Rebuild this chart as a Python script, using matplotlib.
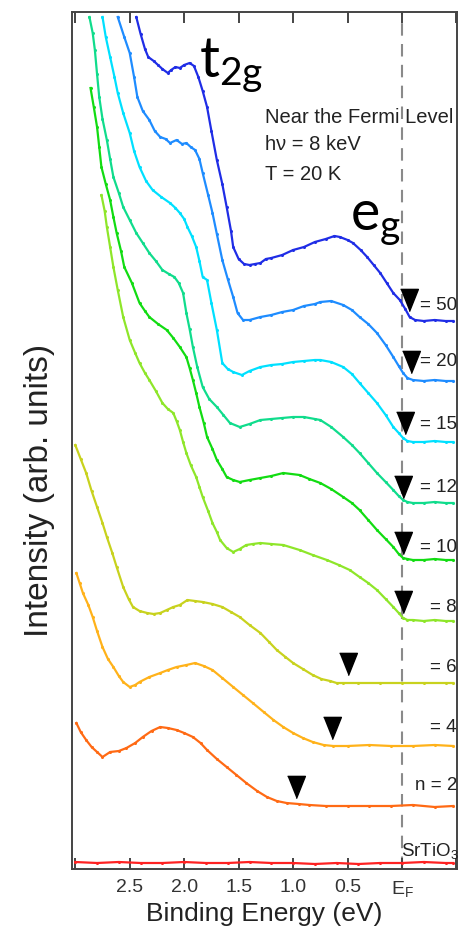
import numpy as np
from matplotlib import pyplot as plt

plt.rcParams['font.family'] = ['Liberation Sans Narrow', 'Liberation Sans', 'DejaVu Sans']

# binding energy (eV) and intensity (arb. units) for each film
e_50 = [2.44, 2.40, 2.36, 2.33, 2.28, 2.24, 2.20, 2.15, 2.12, 2.08, 2.04, 2.00, 1.95, 1.91,
        1.87, 1.83, 1.79, 1.75, 1.70, 1.65, 1.61, 1.57, 1.55, 1.50, 1.45, 1.40, 1.35, 1.30,
        1.25, 1.20, 1.10, 1.00, 0.90, 0.80, 0.70, 0.62, 0.57, 0.50, 0.45, 0.38, 0.32, 0.26,
        0.20, 0.14, 0.08, 0.02, -0.03, -0.07, -0.12, -0.20, -0.30, -0.40, -0.47]
i_50 = [8.52, 8.35, 8.20, 8.12, 8.08, 8.04, 8.00, 7.96, 7.99, 8.02, 8.01, 8.04, 8.06, 8.03,
        7.92, 7.78, 7.62, 7.38, 7.09, 6.85, 6.62, 6.38, 6.22, 6.10, 6.05, 6.04, 6.05, 6.06,
        6.10, 6.11, 6.14, 6.19, 6.22, 6.27, 6.30, 6.33, 6.32, 6.29, 6.26, 6.19, 6.12, 6.04,
        5.96, 5.86, 5.76, 5.69, 5.60, 5.52, 5.49, 5.48, 5.49, 5.48, 5.48]

e_20 = [2.61, 2.55, 2.50, 2.46, 2.43, 2.38, 2.32, 2.27, 2.22, 2.17, 2.13, 2.07, 2.02, 1.98,
        1.94, 1.90, 1.86, 1.83, 1.78, 1.74, 1.70, 1.65, 1.60, 1.55, 1.51, 1.46, 1.40, 1.30,
        1.20, 1.10, 1.00, 0.90, 0.80, 0.75, 0.65, 0.54, 0.46, 0.39, 0.31, 0.23, 0.15, 0.08,
        0.03, -0.01, -0.05, -0.10, -0.20, -0.30, -0.40, -0.47]
i_20 = [8.52, 8.32, 8.16, 7.92, 7.72, 7.58, 7.49, 7.38, 7.32, 7.30, 7.26, 7.29, 7.25, 7.26,
        7.22, 7.19, 7.10, 6.96, 6.74, 6.56, 6.35, 6.09, 5.90, 5.72, 5.56, 5.49, 5.49, 5.52,
        5.54, 5.57, 5.59, 5.63, 5.65, 5.67, 5.68, 5.64, 5.59, 5.52, 5.45, 5.36, 5.24, 5.12,
        5.03, 4.96, 4.91, 4.89, 4.88, 4.89, 4.88, 4.88]

e_15 = [2.75, 2.72, 2.68, 2.64, 2.61, 2.56, 2.50, 2.46, 2.41, 2.35, 2.29, 2.21, 2.13, 2.08,
        2.04, 2.00, 1.97, 1.93, 1.89, 1.86, 1.83, 1.79, 1.75, 1.70, 1.65, 1.60, 1.55, 1.47,
        1.40, 1.30, 1.20, 1.10, 1.00, 0.90, 0.80, 0.75, 0.65, 0.54, 0.46, 0.39, 0.31, 0.23,
        0.15, 0.08, 0.03, -0.01, -0.05, -0.10, -0.20, -0.30, -0.40, -0.47]
i_15 = [8.52, 8.32, 8.12, 7.92, 7.76, 7.56, 7.36, 7.18, 7.02, 6.88, 6.79, 6.72, 6.66, 6.61,
        6.56, 6.50, 6.42, 6.33, 6.22, 6.08, 5.92, 5.89, 5.66, 5.39, 5.06, 5.00, 4.97, 4.94,
        4.98, 5.02, 5.04, 5.05, 5.07, 5.08, 5.09, 5.09, 5.07, 5.02, 4.95, 4.86, 4.76, 4.66,
        4.54, 4.42, 4.36, 4.31, 4.28, 4.27, 4.27, 4.28, 4.27, 4.27]

e_12 = [2.87, 2.84, 2.82, 2.80, 2.78, 2.75, 2.71, 2.68, 2.65, 2.60, 2.56, 2.50, 2.44, 2.38,
        2.32, 2.26, 2.20, 2.14, 2.09, 2.05, 2.01, 1.98, 1.95, 1.92, 1.88, 1.83, 1.77, 1.70,
        1.64, 1.58, 1.49, 1.40, 1.30, 1.20, 1.10, 1.00, 0.90, 0.80, 0.75, 0.65, 0.54, 0.46,
        0.39, 0.31, 0.23, 0.15, 0.08, 0.03, -0.01, -0.05, -0.10, -0.20, -0.30, -0.40, -0.47]
i_12 = [8.52, 8.36, 8.19, 7.95, 7.72, 7.50, 7.29, 7.10, 6.92, 6.76, 6.62, 6.49, 6.36, 6.26,
        6.16, 6.08, 5.99, 5.95, 5.92, 5.86, 5.76, 5.56, 5.40, 5.22, 5.02, 4.82, 4.70, 4.62,
        4.54, 4.46, 4.42, 4.45, 4.49, 4.50, 4.51, 4.52, 4.52, 4.50, 4.49, 4.42, 4.32, 4.24,
        4.16, 4.06, 3.96, 3.87, 3.79, 3.73, 3.69, 3.67, 3.66, 3.66, 3.67, 3.66, 3.66]

e_10 = [2.86, 2.83, 2.80, 2.78, 2.76, 2.72, 2.68, 2.65, 2.62, 2.58, 2.55, 2.48, 2.41, 2.36,
        2.32, 2.24, 2.16, 2.10, 2.04, 1.98, 1.95, 1.92, 1.89, 1.86, 1.82, 1.79, 1.74, 1.70,
        1.65, 1.61, 1.55, 1.49, 1.40, 1.30, 1.20, 1.09, 0.94, 0.85, 0.75, 0.65, 0.54, 0.46,
        0.39, 0.31, 0.23, 0.15, 0.08, 0.03, -0.01, -0.05, -0.10, -0.20, -0.30, -0.40, -0.47]
i_10 = [7.81, 7.62, 7.42, 7.22, 7.02, 6.85, 6.69, 6.52, 6.36, 6.18, 6.02, 5.86, 5.66, 5.58,
        5.52, 5.45, 5.39, 5.31, 5.22, 5.12, 5.01, 4.89, 4.76, 4.62, 4.46, 4.32, 4.20, 4.09,
        4.00, 3.92, 3.89, 3.87, 3.89, 3.91, 3.93, 3.96, 3.94, 3.90, 3.86, 3.80, 3.72, 3.66,
        3.59, 3.49, 3.39, 3.30, 3.22, 3.15, 3.11, 3.10, 3.09, 3.09, 3.10, 3.09, 3.09]

e_8 = [2.76, 2.73, 2.71, 2.68, 2.65, 2.61, 2.56, 2.50, 2.45, 2.41, 2.36, 2.32, 2.26, 2.20,
       2.15, 2.10, 2.07, 2.04, 2.01, 1.98, 1.94, 1.89, 1.86, 1.83, 1.78, 1.74, 1.70, 1.67,
       1.61, 1.55, 1.49, 1.43, 1.37, 1.30, 1.20, 1.09, 0.94, 0.82, 0.69, 0.58, 0.48, 0.39,
       0.31, 0.23, 0.15, 0.08, 0.03, -0.01, -0.05, -0.10, -0.20, -0.30, -0.40, -0.47]
i_8 = [6.74, 6.58, 6.42, 6.22, 6.02, 5.79, 5.52, 5.29, 5.16, 5.06, 4.96, 4.89, 4.78, 4.66,
       4.60, 4.56, 4.48, 4.39, 4.27, 4.16, 4.04, 3.92, 3.82, 3.72, 3.58, 3.46, 3.37, 3.29,
       3.21, 3.17, 3.20, 3.24, 3.25, 3.26, 3.25, 3.24, 3.19, 3.14, 3.09, 3.04, 2.99, 2.92,
       2.86, 2.79, 2.70, 2.62, 2.56, 2.51, 2.49, 2.49, 2.48, 2.49, 2.48, 2.48]

e_6 = [3.00, 2.95, 2.90, 2.85, 2.80, 2.75, 2.71, 2.66, 2.62, 2.56, 2.51, 2.47, 2.41, 2.34,
       2.28, 2.22, 2.16, 2.10, 2.04, 1.97, 1.90, 1.83, 1.74, 1.65, 1.57, 1.49, 1.40, 1.30,
       1.22, 1.15, 1.07, 1.00, 0.91, 0.82, 0.74, 0.66, 0.60, 0.54, 0.40, 0.20, 0.00, -0.20,
       -0.40, -0.47]
i_6 = [4.24, 4.10, 3.96, 3.78, 3.62, 3.46, 3.32, 3.16, 3.02, 2.82, 2.70, 2.62, 2.58, 2.56,
       2.55, 2.56, 2.59, 2.62, 2.64, 2.69, 2.68, 2.67, 2.65, 2.62, 2.57, 2.52, 2.44, 2.36,
       2.27, 2.19, 2.12, 2.06, 2.00, 1.94, 1.90, 1.88, 1.86, 1.86, 1.86, 1.86, 1.86, 1.86,
       1.86, 1.86]

e_4 = [2.99, 2.96, 2.93, 2.88, 2.84, 2.80, 2.75, 2.70, 2.65, 2.60, 2.56, 2.50, 2.45, 2.41,
       2.32, 2.22, 2.15, 2.07, 1.98, 1.90, 1.82, 1.74, 1.65, 1.55, 1.46, 1.37, 1.27, 1.18,
       1.09, 1.00, 0.91, 0.82, 0.72, 0.63, 0.50, 0.30, 0.10, -0.10, -0.30, -0.47]
i_4 = [2.96, 2.86, 2.76, 2.64, 2.52, 2.38, 2.22, 2.10, 2.02, 1.93, 1.87, 1.82, 1.84, 1.87,
       1.92, 1.96, 1.99, 2.02, 2.04, 2.06, 2.03, 1.99, 1.91, 1.82, 1.74, 1.66, 1.57, 1.49,
       1.42, 1.36, 1.31, 1.27, 1.24, 1.23, 1.23, 1.24, 1.23, 1.23, 1.24, 1.23]

e_2 = [2.99, 2.95, 2.90, 2.85, 2.80, 2.75, 2.68, 2.60, 2.53, 2.45, 2.38, 2.30, 2.22, 2.15,
       2.07, 2.00, 1.92, 1.85, 1.79, 1.70, 1.61, 1.52, 1.43, 1.33, 1.24, 1.15, 1.06, 0.95,
       0.85, 0.70, 0.50, 0.30, 0.10, -0.10, -0.30, -0.47]
i_2 = [1.46, 1.37, 1.29, 1.22, 1.17, 1.12, 1.17, 1.18, 1.21, 1.26, 1.32, 1.38, 1.42, 1.41,
       1.39, 1.36, 1.32, 1.26, 1.19, 1.10, 1.02, 0.94, 0.86, 0.78, 0.72, 0.68, 0.66, 0.65,
       0.64, 0.63, 0.63, 0.63, 0.63, 0.64, 0.62, 0.63]

e_sto = [3.00, 2.80, 2.60, 2.40, 2.20, 2.00, 1.80, 1.60, 1.40, 1.20, 1.00, 0.80, 0.60,
         0.40, 0.20, 0.00, -0.20, -0.40, -0.47]
i_sto = [0.07, 0.06, 0.07, 0.06, 0.06, 0.07, 0.06, 0.06, 0.07, 0.06, 0.06, 0.05, 0.06,
         0.05, 0.06, 0.06, 0.07, 0.06, 0.06]

spectra = [
    (e_50, i_50, '#1f2de6'),
    (e_20, i_20, '#1e8cff'),
    (e_15, i_15, '#00e0ff'),
    (e_12, i_12, '#10dc8c'),
    (e_10, i_10, '#12dc12'),
    (e_8, i_8, '#8ee62a'),
    (e_6, i_6, '#c8d21e'),
    (e_4, i_4, '#ffb21a'),
    (e_2, i_2, '#ff6a14'),
    (e_sto, i_sto, '#ff2222'),
]

labels = ['= 50', '= 20', '= 15', '= 12', '= 10', '= 8', '= 6', '= 4', 'n = 2']
label_y = [5.64, 5.07, 4.44, 3.81, 3.21, 2.62, 2.02, 1.41, 0.84]

# band edge markers (eV, intensity)
edge_e = [-0.065, -0.08, -0.03, -0.01, -0.01, -0.01, 0.50, 0.64, 0.97]
edge_i = [5.69, 5.07, 4.46, 3.82, 3.26, 2.67, 2.05, 1.41, 0.82]

xticks = [3.0, 2.5, 2.0, 1.5, 1.0, 0.5, 0.0, -0.5]
xticklabels = ['', '2.5', '2.0', '1.5', '1.0', '0.5', r'$\mathregular{E_F}$', '']

# slightly elongated down-pointing triangle
tri = [(-0.8, 1.0), (0.8, 1.0), (0.0, -1.0)]

fig = plt.figure(figsize=(4.64, 9.34), dpi=100)
ax = fig.add_axes([72 / 464, 65 / 934, 385 / 464, 857 / 934])

ax.axvline(0.0, color='#8a8a8a', lw=1.5, ls=(0, (6, 4)), zorder=1)

for e, inten, c in spectra:
    ax.plot(e, inten, color=c, lw=1.6, marker='o', ms=2.2, mew=0, zorder=2)

ax.plot(edge_e, edge_i, ls='none', marker=tri, ms=16, color='black', zorder=3)

for lab, y in zip(labels, label_y):
    ax.text(-0.505, y, lab, ha='right', va='center', fontsize=13.5, color='#222222')
ax.text(0.005, 0.12, r'SrTiO$_\mathregular{3}$', ha='left', va='baseline', fontsize=13.5,
        color='#222222')

ax.text(1.86, 7.92, r'$\mathregular{t_{2g}}$', family=['Lato', 'DejaVu Sans'],
        fontsize=40, va='baseline', ha='left')
ax.text(0.48, 6.39, r'$\mathregular{e_{g}}$', family=['Lato', 'DejaVu Sans'],
        fontsize=40, va='baseline', ha='left')

ax.text(1.26, 7.46, 'Near the Fermi Level', fontsize=14.5, va='baseline', color='#222222')
ax.text(1.26, 7.19, 'h\u03bd = 8 keV', fontsize=14.5, va='baseline', color='#222222')
ax.text(1.26, 6.89, 'T = 20 K', fontsize=14.5, va='baseline', color='#222222')

ax.set_xlim(3.03, -0.505)
ax.set_ylim(0, 8.57)
ax.set_xticks(xticks)
ax.set_xticklabels(xticklabels, fontsize=14, color='#333333')
ax.set_yticks([])
ax.tick_params(axis='x', direction='in', top=True, length=8, width=1.4, color='#444444', pad=7)

for s in ax.spines.values():
    s.set_color('#444444')
    s.set_linewidth(1.4)

ax.set_xlabel('Binding Energy (eV)', fontsize=19, color='#222222', labelpad=2)
ax.set_ylabel('Intensity (arb. units)', fontsize=24, color='#222222')
ax.yaxis.set_label_coords(-0.044, 0.442)

fig.savefig('out.png', dpi=100)
